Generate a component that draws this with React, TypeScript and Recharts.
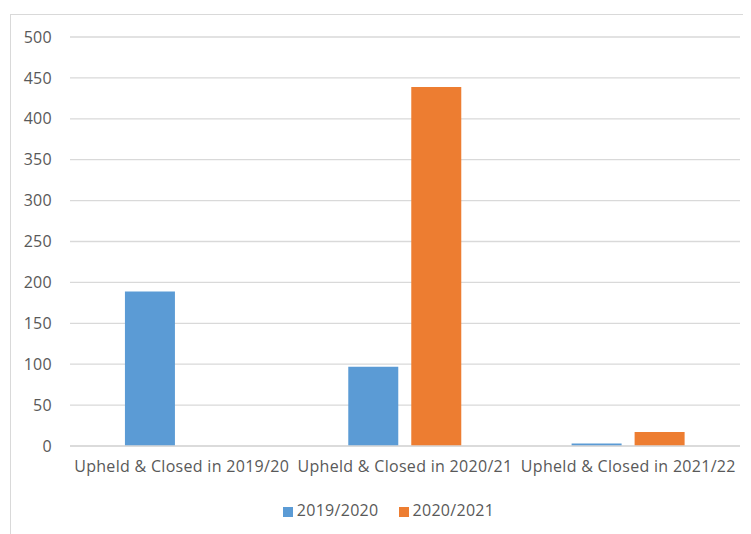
import { BarChart, Bar, XAxis, YAxis, CartesianGrid, Legend } from 'recharts'

const categories = ['Upheld & Closed in 2019/20', 'Upheld & Closed in 2020/21', 'Upheld & Closed in 2021/22']
const series2019 = [189, 97, 3]
const series2020 = [0, 439, 17]
const yTicks = [0, 50, 100, 150, 200, 250, 300, 350, 400, 450, 500]

const data = categories.map((name, i) => ({ name, s2019: series2019[i], s2020: series2020[i] }))

const font = { fontFamily: '"Open Sans", sans-serif', fontSize: 16, fill: '#595959', letterSpacing: 0.3 }

export default function App() {
  return (
    <div style={{ marginLeft: 2, marginTop: 6, width: 739, height: 530, border: '1px solid #d9d9d9' }}>
      <BarChart
        width={739}
        height={519}
        data={data}
        margin={{ top: 22, right: 10, left: 0, bottom: 8 }}
        barCategoryGap="24.6%"
        barGap={13}
      >
        <CartesianGrid vertical={false} stroke="#d9d9d9" strokeWidth={1.3} />
        <XAxis
          dataKey="name"
          interval={0}
          tickSize={0}
          tickMargin={15}
          height={53}
          axisLine={{ stroke: '#d9d9d9', strokeWidth: 1.3 }}
          tickLine={false}
          tick={font}
        />
        <YAxis
          width={59}
          domain={[0, 500]}
          ticks={yTicks}
          tickSize={0}
          tickMargin={18}
          axisLine={false}
          tickLine={false}
          tick={font}
        />
        <Legend
          verticalAlign="bottom"
          height={27}
          iconType="square"
          iconSize={10}
          wrapperStyle={{ fontFamily: '"Open Sans", sans-serif', fontSize: 16, letterSpacing: 0.3, color: '#595959', paddingLeft: 23 }}
          formatter={(v: string) => <span style={{ color: '#595959', marginRight: 10 }}>{v}</span>}
        />
        <Bar dataKey="s2019" name="2019/2020" fill="#5B9BD5" isAnimationActive={false} />
        <Bar dataKey="s2020" name="2020/2021" fill="#ED7D31" isAnimationActive={false} />
      </BarChart>
    </div>
  )
}
